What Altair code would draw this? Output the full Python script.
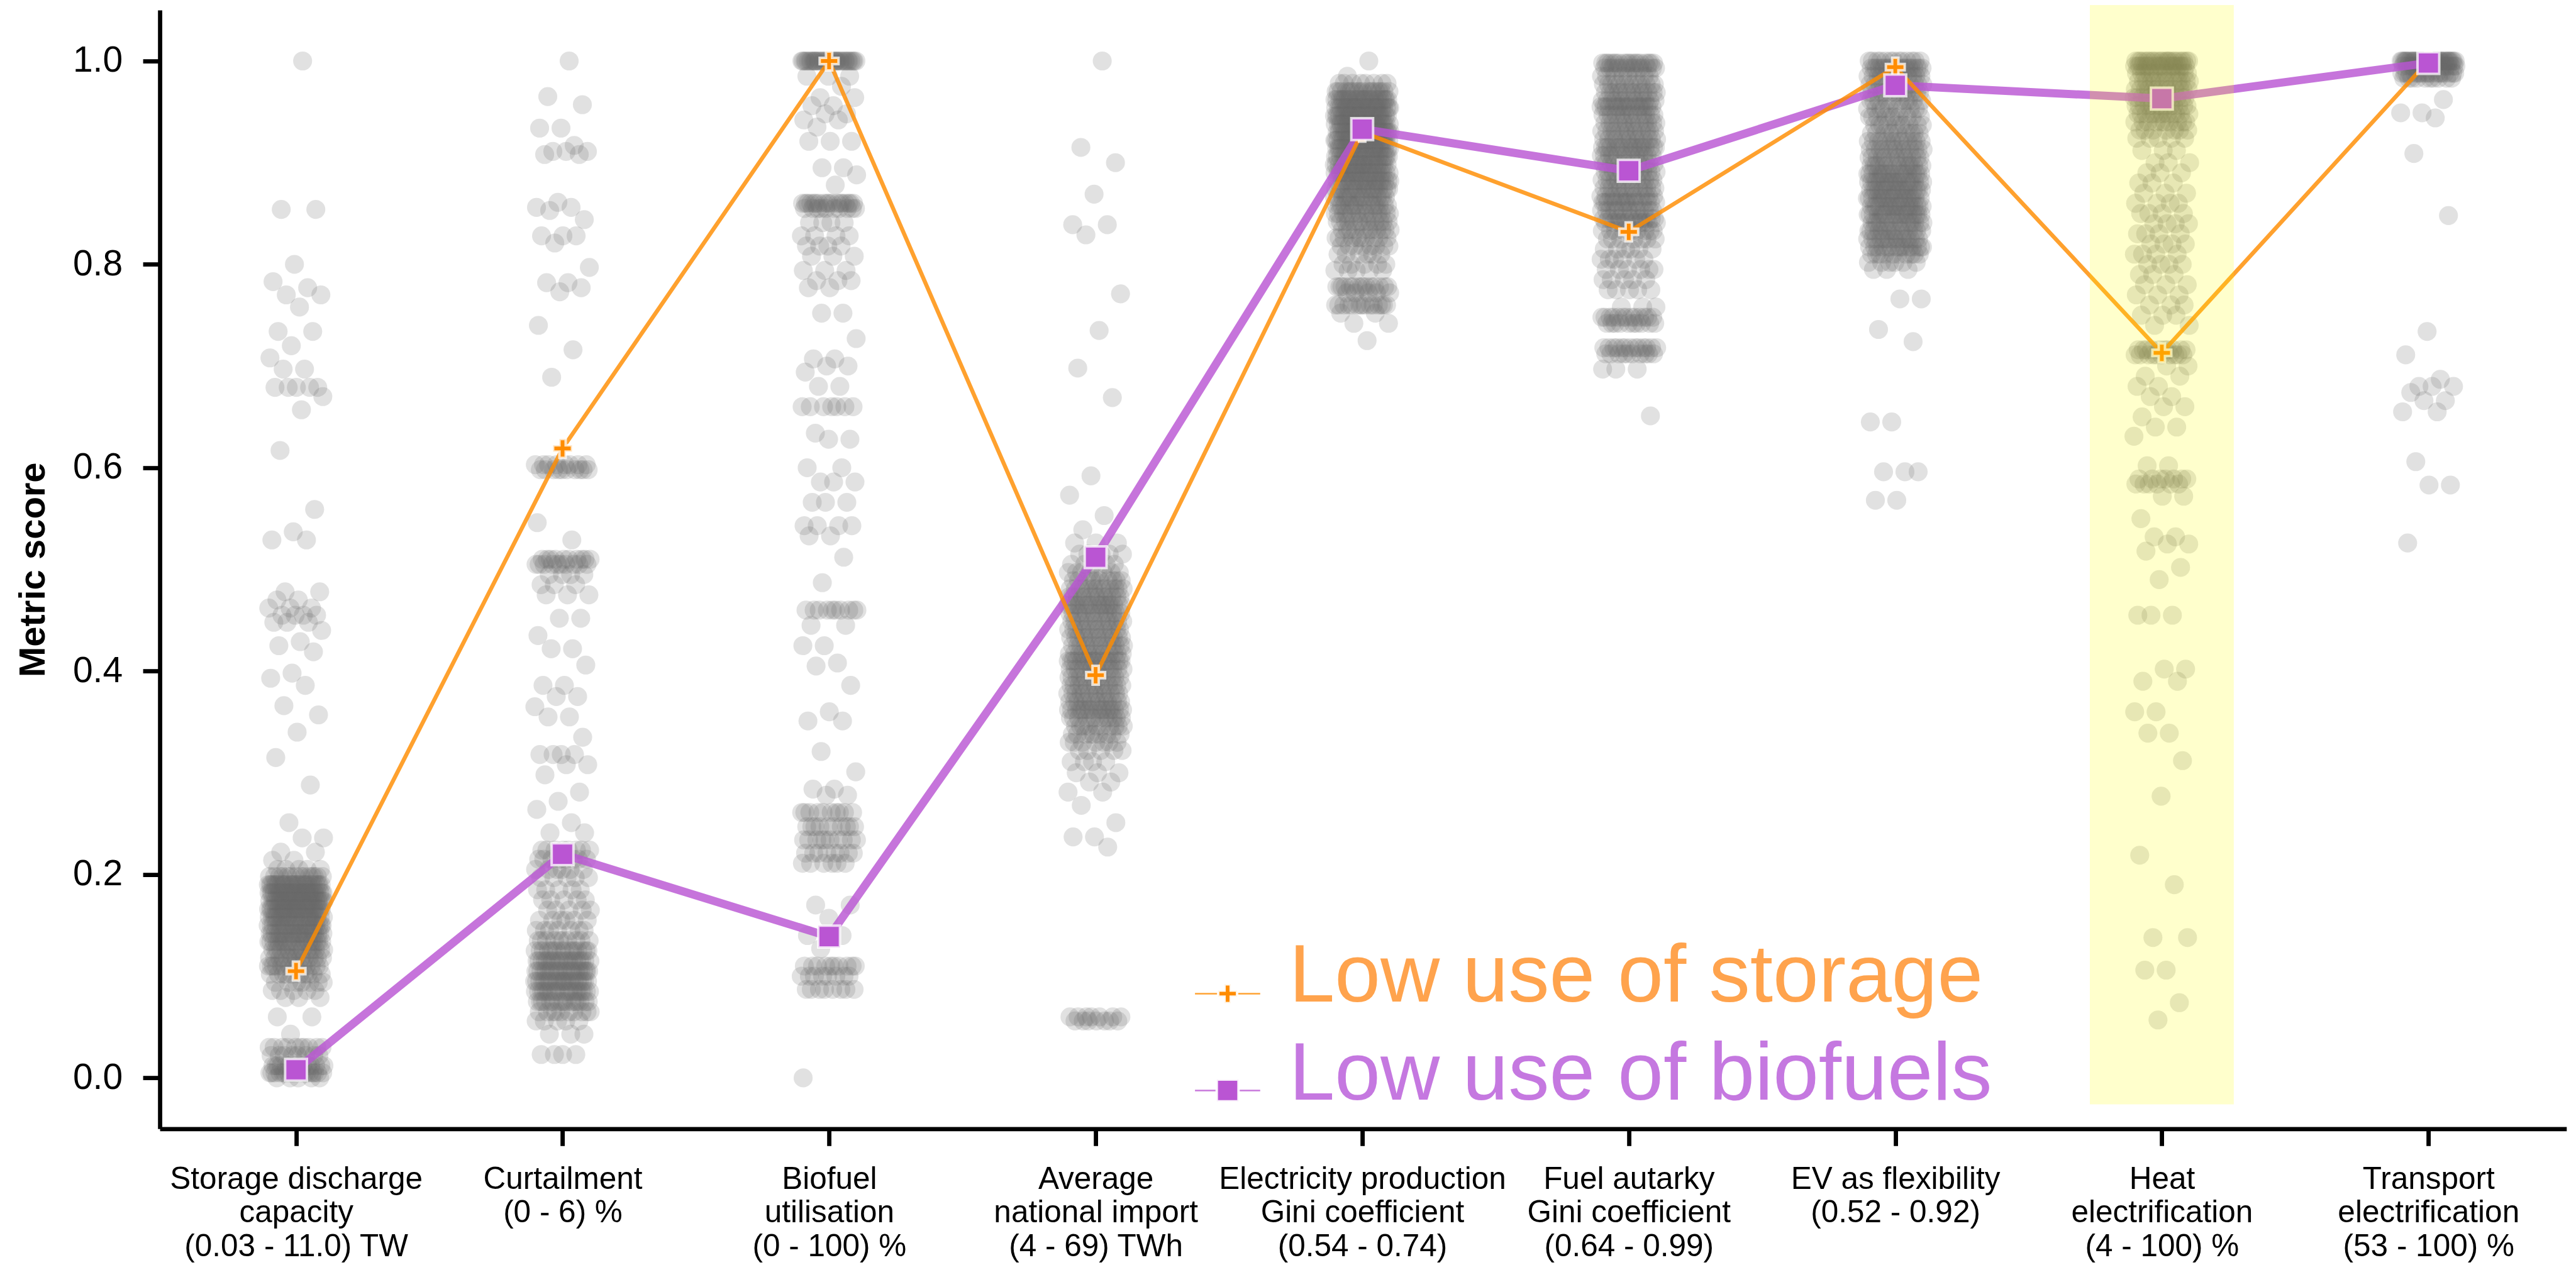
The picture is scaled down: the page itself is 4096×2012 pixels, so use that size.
import json
import altair as alt
import pandas as pd

# ---------------- data ----------------
CATEGORY_LABELS = [
    ["Storage discharge", "capacity", "(0.03 - 11.0) TW"],
    ["Curtailment", "(0 - 6) %"],
    ["Biofuel", "utilisation", "(0 - 100) %"],
    ["Average", "national import", "(4 - 69) TWh"],
    ["Electricity production", "Gini coefficient", "(0.54 - 0.74)"],
    ["Fuel autarky", "Gini coefficient", "(0.64 - 0.99)"],
    ["EV as flexibility", "(0.52 - 0.92)"],
    ["Heat", "electrification", "(4 - 100) %"],
    ["Transport", "electrification", "(53 - 100) %"],
]
SERIES = ["Low use of storage", "Low use of biofuels"]
STORAGE_SCORES = [0.105, 0.619, 1.0, 0.396, 0.930, 0.832, 0.994, 0.713, 1.0]
BIOFUEL_SCORES = [0.008, 0.220, 0.139, 0.512, 0.933, 0.892, 0.976, 0.963, 0.998]
HIGHLIGHT_INDEX = 7
Y_TICKS = [0.0, 0.2, 0.4, 0.6, 0.8, 1.0]

# strip-plot scores per metric, read as (score, number of runs at that score)
S0_VAL = [1.0, 0.854, 0.80, 0.783, 0.777, 0.77, 0.758, 0.734, 0.72, 0.708, 0.697, 0.679, 0.67, 0.657, 0.617,
          0.559, 0.537, 0.529, 0.478, 0.47, 0.462, 0.455, 0.448, 0.44, 0.429, 0.425, 0.419, 0.398, 0.393, 0.386,
          0.366, 0.357, 0.34, 0.315, 0.288, 0.251, 0.236, 0.222, 0.214, 0.205, 0.198, 0.19, 0.182, 0.174, 0.166,
          0.158, 0.15, 0.142, 0.134, 0.126, 0.118, 0.11, 0.102, 0.094, 0.086, 0.079, 0.06, 0.043, 0.03, 0.022,
          0.012, 0.005, 0.0]
S0_CNT = [1, 2, 1, 1, 1, 2, 1, 2, 1, 1, 2, 5, 1, 1, 1,
          1, 1, 2, 2, 2, 3, 4, 3, 1, 1, 1, 1, 1, 1, 1,
          1, 1, 1, 1, 1, 1, 2, 2, 2, 5, 14, 28, 30, 30, 28,
          24, 22, 22, 20, 16, 14, 14, 10, 7, 5, 3, 2, 1, 10, 8,
          14, 18, 5]

S1_VAL = [1.0, 0.965, 0.957, 0.934, 0.917, 0.911, 0.908, 0.861, 0.856, 0.853, 0.844, 0.828, 0.821, 0.797, 0.782,
          0.777, 0.773, 0.74, 0.716, 0.689, 0.603, 0.598, 0.546, 0.529, 0.51, 0.505, 0.495, 0.485, 0.475, 0.452,
          0.435, 0.422, 0.406, 0.386, 0.375, 0.365, 0.355, 0.335, 0.318, 0.308, 0.298, 0.281, 0.272, 0.264, 0.251,
          0.241, 0.224, 0.215, 0.205, 0.197, 0.185, 0.175, 0.165, 0.155, 0.145, 0.135, 0.125, 0.115, 0.105, 0.095,
          0.085, 0.075, 0.065, 0.056, 0.043, 0.023]
S1_CNT = [1, 1, 1, 2, 1, 3, 2, 1, 2, 1, 1, 3, 1, 1, 2,
          1, 1, 1, 1, 1, 8, 10, 1, 1, 10, 10, 4, 3, 3, 2,
          1, 2, 1, 2, 2, 1, 2, 1, 4, 2, 1, 1, 1, 1, 1,
          2, 8, 8, 6, 5, 5, 5, 5, 6, 7, 10, 16, 20, 22, 22,
          20, 16, 10, 5, 3, 4]

S2_VAL = [1.0, 0.985, 0.975, 0.964, 0.956, 0.948, 0.942, 0.935, 0.921, 0.895, 0.888, 0.878, 0.86, 0.855, 0.841,
          0.828, 0.818, 0.808, 0.794, 0.784, 0.777, 0.752, 0.727, 0.707, 0.7, 0.694, 0.68, 0.66, 0.634, 0.628,
          0.6, 0.586, 0.566, 0.543, 0.533, 0.512, 0.487, 0.46, 0.445, 0.425, 0.408, 0.405, 0.386, 0.36, 0.351,
          0.321, 0.301, 0.284, 0.278, 0.261, 0.247, 0.234, 0.221, 0.211, 0.17, 0.157, 0.14, 0.127, 0.11, 0.1,
          0.087, 0.0]
S2_CNT = [36, 3, 1, 2, 2, 2, 2, 1, 3, 2, 1, 1, 18, 10, 4,
          4, 4, 3, 3, 3, 2, 2, 1, 2, 2, 1, 2, 7, 1, 2,
          2, 3, 3, 4, 2, 1, 1, 10, 2, 2, 1, 1, 1, 1, 2,
          1, 1, 2, 2, 10, 10, 10, 8, 6, 2, 1, 2, 1, 10, 8,
          8, 1]

S3_VAL = [1.0, 0.915, 0.9, 0.869, 0.839, 0.829, 0.771, 0.735, 0.698, 0.669, 0.592, 0.573, 0.553, 0.539, 0.526,
          0.515, 0.505, 0.497, 0.489, 0.481, 0.473, 0.465, 0.457, 0.449, 0.441, 0.433, 0.425, 0.417, 0.41, 0.402,
          0.394, 0.386, 0.378, 0.37, 0.362, 0.354, 0.346, 0.338, 0.33, 0.322, 0.311, 0.3, 0.291, 0.281, 0.268,
          0.251, 0.237, 0.227, 0.06, 0.056]
S3_CNT = [1, 1, 1, 1, 2, 1, 1, 1, 1, 1, 1, 1, 1, 1, 3,
          5, 5, 8, 10, 13, 13, 18, 13, 13, 13, 13, 13, 13, 18, 13,
          13, 13, 13, 13, 18, 12, 10, 9, 7, 5, 4, 3, 2, 2, 1,
          1, 2, 1, 7, 7]

S4_VAL = [1.0, 0.985, 0.978, 0.97, 0.962, 0.954, 0.946, 0.938, 0.93, 0.922, 0.914, 0.906, 0.898, 0.89, 0.882,
          0.874, 0.866, 0.858, 0.85, 0.842, 0.834, 0.826, 0.818, 0.81, 0.8, 0.794, 0.778, 0.772, 0.76, 0.752,
          0.742, 0.725]
S4_CNT = [1, 1, 8, 18, 24, 26, 26, 26, 26, 26, 24, 22, 22, 22, 20,
          18, 16, 16, 14, 13, 11, 10, 8, 6, 5, 5, 15, 5, 15, 2,
          2, 1]

S5_VAL = [0.998, 0.993, 0.985, 0.977, 0.969, 0.961, 0.955, 0.947, 0.939, 0.931, 0.923, 0.915, 0.907, 0.899, 0.891,
          0.883, 0.875, 0.867, 0.861, 0.853, 0.845, 0.841, 0.833, 0.825, 0.815, 0.805, 0.795, 0.785, 0.775, 0.758,
          0.748, 0.742, 0.718, 0.712, 0.697, 0.651]
S5_CNT = [18, 13, 8, 13, 13, 13, 18, 13, 13, 13, 13, 18, 13, 13, 13,
          13, 13, 13, 15, 13, 13, 10, 10, 7, 6, 6, 6, 5, 5, 3,
          13, 10, 13, 10, 3, 1]

S6_VAL = [1.0, 0.993, 0.985, 0.977, 0.969, 0.961, 0.953, 0.945, 0.937, 0.929, 0.921, 0.913, 0.905, 0.897, 0.889,
          0.881, 0.873, 0.865, 0.857, 0.849, 0.841, 0.833, 0.825, 0.817, 0.81, 0.802, 0.795, 0.766, 0.736, 0.724,
          0.645, 0.596, 0.568]
S6_CNT = [13, 20, 13, 13, 13, 10, 10, 10, 10, 10, 13, 13, 13, 15, 18,
          18, 18, 18, 18, 18, 15, 15, 15, 15, 10, 6, 3, 2, 1, 1,
          2, 3, 2]

S7_VAL = [1.0, 0.995, 0.988, 0.98, 0.972, 0.964, 0.956, 0.948, 0.94, 0.932, 0.924, 0.912, 0.9, 0.89, 0.88,
          0.87, 0.86, 0.85, 0.84, 0.83, 0.82, 0.81, 0.8, 0.79, 0.78, 0.77, 0.76, 0.75, 0.74, 0.716,
          0.711, 0.7, 0.69, 0.68, 0.67, 0.66, 0.65, 0.64, 0.631, 0.602, 0.589, 0.584, 0.572, 0.55, 0.532,
          0.525, 0.518, 0.502, 0.49, 0.455, 0.402, 0.39, 0.36, 0.339, 0.312, 0.277, 0.219, 0.19, 0.138, 0.106,
          0.074, 0.057]
S7_CNT = [22, 18, 13, 13, 13, 13, 13, 12, 10, 7, 5, 3, 3, 3, 3,
          3, 4, 4, 4, 4, 4, 4, 4, 3, 3, 3, 3, 3, 2, 10,
          10, 2, 2, 2, 2, 2, 1, 2, 1, 2, 7, 6, 2, 1, 2,
          2, 1, 1, 1, 3, 2, 2, 2, 2, 1, 1, 1, 1, 2, 2,
          1, 1]

S8_VAL = [1.0, 0.995, 0.988, 0.983, 0.962, 0.949, 0.944, 0.909, 0.848, 0.734, 0.711, 0.687, 0.68, 0.674, 0.666,
          0.655, 0.606, 0.583, 0.526]
S8_CNT = [40, 18, 18, 10, 1, 2, 1, 1, 1, 1, 1, 1, 3, 1, 2,
          2, 1, 2, 1]

STRIPS = [(S0_VAL, S0_CNT), (S1_VAL, S1_CNT), (S2_VAL, S2_CNT), (S3_VAL, S3_CNT), (S4_VAL, S4_CNT),
          (S5_VAL, S5_CNT), (S6_VAL, S6_CNT), (S7_VAL, S7_CNT), (S8_VAL, S8_CNT)]

rows = []
for ci, (vals, cnts) in enumerate(STRIPS):
    for v, c in zip(vals, cnts):
        rows.extend([{"cat": ci, "score": v}] * c)
strip_df = pd.DataFrame(rows)

summary_df = pd.DataFrame(
    [{"series": SERIES[0], "cat": i, "score": s} for i, s in enumerate(STORAGE_SCORES)]
    + [{"series": SERIES[1], "cat": i, "score": s} for i, s in enumerate(BIOFUEL_SCORES)]
)
highlight_df = pd.DataFrame({"cat": [HIGHLIGHT_INDEX]})

# ---------------- styling ----------------
FONT = "Liberation Sans"
ORANGE = "#FF8C00"
PURPLE = "#BA55D3"
ORANGE_TEXT = "#FFA34D"
PURPLE_TEXT = "#C578E0"
PLUS = "M-1,-0.33H-0.33V-1H0.33V-0.33H1V0.33H0.33V1H-0.33V0.33H-1Z"
PLUS_SIZE = 900
SQUARE_SIZE = 1200

W, H = 3826.7, 1779.2
xs = alt.Scale(domain=[-0.511, 8.518], nice=False, zero=False)
ys = alt.Scale(domain=[-0.05, 1.05], nice=False, zero=False)

label_expr = json.dumps(CATEGORY_LABELS) + "[datum.value]"
x_axis = alt.Axis(values=list(range(len(CATEGORY_LABELS))), labelExpr=label_expr, title=None,
                  labelFont=FONT, labelFontSize=49.5, labelLineHeight=53.5, labelPadding=28.8,
                  labelColor="black", labelOverlap=False, labelBound=False, labelFlush=False,
                  labelLimit=0, labelBaseline="top", tickSize=27, tickWidth=6.8, tickColor="black",
                  domainColor="black", domainWidth=6.8, grid=False)
y_axis = alt.Axis(values=Y_TICKS, format=".1f", title="Metric score",
                  labelFont=FONT, labelFontSize=57, labelPadding=32.5, labelColor="black",
                  tickSize=27, tickWidth=6.8, tickColor="black", domainColor="black", domainWidth=6.8,
                  grid=False, titleFont=FONT, titleFontSize=58, titleFontWeight="bold", titleColor="black",
                  titleAngle=270, titleX=-183.6, titleY=H / 2, titleAlign="center", titleBaseline="alphabetic",
                  labelOverlap=False)

points = alt.Chart(strip_df).transform_window(
    rn="row_number()", groupby=["cat"]
).transform_calculate(
    xj="datum.cat + ((datum.rn * 0.6180339887) % 1 - 0.5) * 0.21"
).mark_circle(size=908, color="#696969", opacity=0.2).encode(
    x=alt.X("xj:Q", scale=xs, axis=x_axis),
    y=alt.Y("score:Q", scale=ys, axis=y_axis),
)

def line_layer(series, color, width):
    return alt.Chart(summary_df).transform_filter(alt.datum.series == series).mark_line(
        color=color, opacity=0.82, strokeWidth=width
    ).encode(x=alt.X("cat:Q", scale=xs, axis=x_axis), y=alt.Y("score:Q", scale=ys, axis=y_axis))

def marker_layer(series, color, shape, size):
    return alt.Chart(summary_df).transform_filter(alt.datum.series == series).mark_point(
        shape=shape, size=size, filled=True, fill=color, fillOpacity=1,
        stroke="white", strokeWidth=4, strokeOpacity=0.75
    ).encode(x=alt.X("cat:Q", scale=xs, axis=x_axis), y=alt.Y("score:Q", scale=ys, axis=y_axis))

purple_line = line_layer(SERIES[1], PURPLE, 13)
orange_line = line_layer(SERIES[0], ORANGE, 6.5)
orange_marks = marker_layer(SERIES[0], ORANGE, PLUS, PLUS_SIZE)
purple_marks = marker_layer(SERIES[1], PURPLE, "square", SQUARE_SIZE)

highlight = alt.Chart(highlight_df).transform_calculate(
    x0="datum.cat - 0.27", x1="datum.cat + 0.27"
).mark_rect(color="#FFFF00", opacity=0.2).encode(
    x=alt.X("x0:Q", scale=xs, axis=x_axis), x2="x1:Q",
    y=alt.Y(datum=-0.026, scale=ys, axis=y_axis), y2=alt.Y2(datum=1.057),
)

# legend (drawn by hand, text coloured like its series)
def legend_row(label, color, text_color, shape, size, marker_y, text_y):
    d = alt.Data(values=[{"label": label}])
    seg = alt.Chart(d).mark_rule(color=color, opacity=0.8, strokeWidth=2.5).encode(
        x=alt.value(1646), x2=alt.value(1749.7), y=alt.value(marker_y))
    mk = alt.Chart(d).mark_point(shape=shape, size=size, filled=True, fill=color, fillOpacity=1,
                                 stroke="white", strokeWidth=4, strokeOpacity=0.9).encode(
        x=alt.value(1697.9), y=alt.value(marker_y))
    tx = alt.Chart(d).mark_text(font=FONT, fontSize=130.6, color=text_color, align="left",
                                baseline="alphabetic").encode(
        x=alt.value(1795.6), y=alt.value(text_y), text="label:N")
    return [seg, mk, tx]

legend_layers = (legend_row(SERIES[0], ORANGE, ORANGE_TEXT, PLUS, PLUS_SIZE, 1564.3, 1577.3)
                 + legend_row(SERIES[1], PURPLE, PURPLE_TEXT, "square", SQUARE_SIZE, 1718.3, 1732.8))

chart = alt.layer(
    points, purple_line, orange_line, orange_marks, purple_marks, highlight, *legend_layers
).properties(
    width=W, height=H,
    autosize=alt.AutoSizeParams(type="none"),
    padding={"left": 246.1, "top": 8.1, "right": 7, "bottom": 216},
    background="white",
).configure_view(stroke=None)

chart.save("out.html", embed_options={"renderer": "svg", "actions": False})
